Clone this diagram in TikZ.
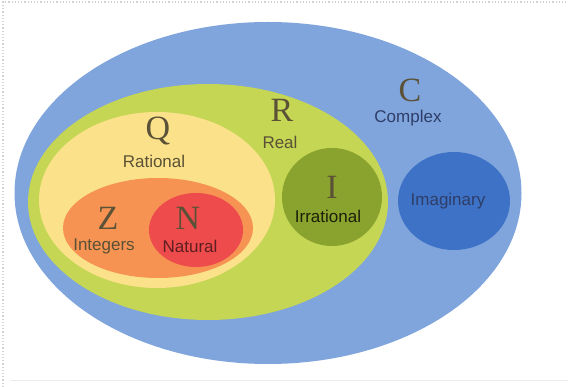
\documentclass[tikz,border=0pt]{standalone}
\usepackage{fontspec}
\setmainfont{Liberation Serif}
\setsansfont{Liberation Sans}
\usepackage{tikz}
\usetikzlibrary{shapes.geometric, positioning}
\usepackage{xcolor}
\definecolor{complexblue}{HTML}{80A4DC}
\definecolor{realgreen}{HTML}{C4D654}
\definecolor{ratyellow}{HTML}{FBE28A}
\definecolor{intorange}{HTML}{F69352}
\definecolor{natred}{HTML}{EE4B4D}
\definecolor{irrgreen}{HTML}{8AA22E}
\definecolor{imagblue}{HTML}{3D72C6}
\definecolor{letterink}{HTML}{5A5136}
\definecolor{navyink}{HTML}{2E3E68}
\newcommand{\Setname}[1]{\fontsize{34}{36}\selectfont #1}
\tikzset{
  region/.style={ellipse, inner sep=0pt, draw=none},
  setletter/.style={font=\Setname, text=letterink, inner sep=0pt},
  setlabel/.style={font=\sffamily\fontsize{17}{19}\selectfont, inner sep=0pt}
}

\begin{document}
\begin{tikzpicture}[x=1pt, y=-1pt]
    \useasboundingbox (0,0) rectangle (568,387);
    % Frame
    \draw[black!18, dotted, line width=1.2pt] (3,387) -- (3,2) -- (568,2);
    \draw[black!8] (10,380) -- (568,380);

    % Regions
    \node[region, fill=complexblue, minimum width=507pt, minimum height=342pt] (complex) at (268,193) {};
    \node[region, fill=realgreen, minimum width=360pt, minimum height=236pt] (real) at (208,202) {};
    \node[region, fill=ratyellow, minimum width=236pt, minimum height=176pt] (rational) at (157,200) {};
    \node[region, fill=intorange, minimum width=190pt, minimum height=100pt] (integers) at (158,228) {};
    \node[region, fill=natred, minimum width=94pt, minimum height=74pt] (natural) at (196,230) {};
    \node[region, fill=irrgreen, minimum width=100pt, minimum height=98pt] (irrational) at (332,197) {};
    \node[region, fill=imagblue, minimum width=112pt, minimum height=98pt] (imaginary) at (454,201) {};

    % Labels
    \node[setletter] (cname) at (410,90) {C};
    \node[setlabel, text=navyink] (clabel) at (408,118) {Complex};
    \node[setletter] (rname) at (282,110) {R};
    \node[setlabel, text=letterink] (rlabel) at (280,142) {Real};
    \node[setletter] (qname) at (158,131) {Q};
    \node[setlabel, text=letterink] (qlabel) at (154,161) {Rational};
    \node[setletter] (zname) at (108,218) {Z};
    \node[setlabel, text=letterink] (zlabel) at (104,246) {Integers};
    \node[setletter] (nname) at (188,218) {N};
    \node[setlabel, text=natred!40!black] (nlabel) at (190,246) {Natural};
    \node[setletter] (iname) at (332,187) {I};
    \node[setlabel, text=black!80!irrgreen] (ilabel) at (328,216) {Irrational};
    \node[setlabel, text=navyink] (imlabel) at (448,201) {Imaginary};
\end{tikzpicture}
\end{document}
